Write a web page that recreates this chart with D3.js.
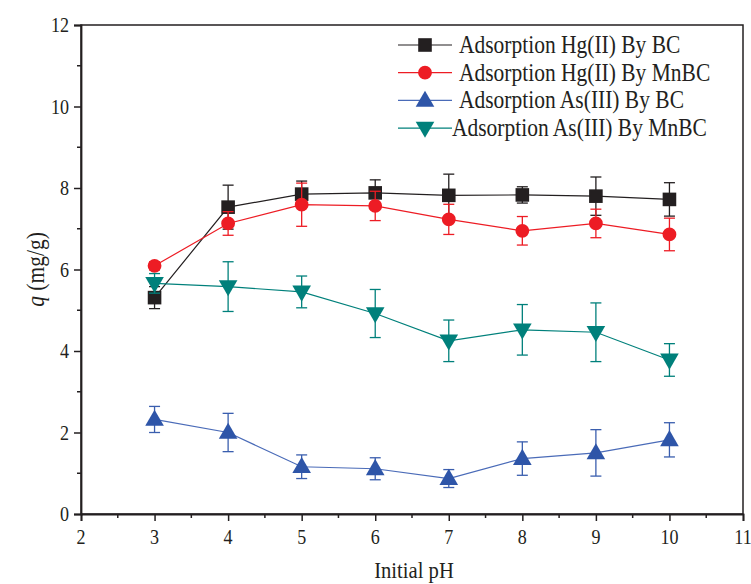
<!DOCTYPE html>
<html>
<head>
<meta charset="utf-8">
<script src="https://cdn.jsdelivr.net/npm/d3@7"></script>
<style>
  html, body { margin: 0; padding: 0; background: #fff; }
</style>
</head>
<body>
<svg id="chart" width="751" height="584"></svg>
<script>
// pH values shared by all series
const phValues = [3, 4, 5, 6, 7, 8, 9, 10];

// adsorption capacity q (mg/g) and standard deviation
const hgBC      = [5.31, 7.53, 7.85, 7.88, 7.82, 7.83, 7.80, 7.72];
const hgBCErr   = [0.27, 0.54, 0.32, 0.32, 0.52, 0.20, 0.47, 0.41];
const hgMnBC    = [6.09, 7.13, 7.59, 7.56, 7.23, 6.95, 7.13, 6.86];
const hgMnBCErr = [0.10, 0.29, 0.53, 0.36, 0.37, 0.35, 0.35, 0.40];
const asBC      = [2.32, 2.00, 1.16, 1.11, 0.87, 1.36, 1.50, 1.82];
const asBCErr   = [0.32, 0.47, 0.29, 0.27, 0.22, 0.41, 0.57, 0.42];
const asMnBC    = [5.66, 5.58, 5.45, 4.92, 4.25, 4.52, 4.46, 3.78];
const asMnBCErr = [0.24, 0.61, 0.39, 0.59, 0.51, 0.62, 0.72, 0.40];

const seriesNames = [
  "Adsorption Hg(II) By BC",
  "Adsorption Hg(II) By MnBC",
  "Adsorption As(III) By BC",
  "Adsorption As(III) By MnBC"
];

const xTicks = [2, 3, 4, 5, 6, 7, 8, 9, 10, 11];
const yTicks = [0, 2, 4, 6, 8, 10, 12];

const FONT = "'Liberation Serif', 'Times New Roman', 'DejaVu Serif', serif";
const INK = "#231f20";
const NARROW = 0.86; // horizontal condensing of the serif face

const series = [
  { name: seriesNames[0], values: hgBC,   err: hgBCErr,   color: INK,       line: INK,       errC: INK,       symbol: d3.symbolSquare,   size: 185, rot: 0 },
  { name: seriesNames[1], values: hgMnBC, err: hgMnBCErr, color: "#ed1c24", line: "#ed1c24", errC: "#ed1c24", symbol: d3.symbolCircle,   size: 150, rot: 0 },
  { name: seriesNames[2], values: asBC,   err: asBCErr,   color: "#2e55a8", line: "#4a6bb8", errC: "#3a5eae", symbol: d3.symbolTriangle, size: 150, rot: 0 },
  { name: seriesNames[3], values: asMnBC, err: asMnBCErr, color: "#00807b", line: "#00807b", errC: "#00807b", symbol: d3.symbolTriangle, size: 150, rot: 180 }
];

const svg = d3.select("#chart");
const margin = { left: 81, right: 8, top: 25, bottom: 70 };
const W = 751, H = 584;

const x = d3.scaleLinear().domain([2, 11]).range([margin.left, W - margin.right]);
const y = d3.scaleLinear().domain([0, 12]).range([H - margin.bottom, margin.top]);

// condensed text helper
function label(parent, tx, ty, str, size, anchor, rotate) {
  const t = parent.append("text")
    .attr("transform", `translate(${tx},${ty})${rotate ? ` rotate(${rotate})` : ""} scale(${NARROW},1)`)
    .attr("font-family", FONT).attr("font-size", size).attr("fill", INK)
    .attr("text-anchor", anchor || "start");
  if (str !== null) t.text(str);
  return t;
}

// plot frame
svg.append("rect")
  .attr("x", x(2)).attr("y", y(12))
  .attr("width", x(11) - x(2)).attr("height", y(0) - y(12))
  .attr("fill", "none").attr("stroke", INK).attr("stroke-width", 1.5);

// bottom axis: major ticks at integers, minor at halves
const xAxis = d3.axisBottom(x).tickValues(xTicks).tickSize(7).tickFormat("");
const gx = svg.append("g").attr("transform", `translate(0,${y(0)})`).call(xAxis);
gx.selectAll(".tick line").attr("stroke", INK).attr("stroke-width", 1.5);
gx.select(".domain").attr("stroke", INK).attr("stroke-width", 1.8);
svg.append("g").selectAll("line")
  .data(d3.range(2.5, 11, 1)).join("line")
  .attr("x1", d => x(d)).attr("x2", d => x(d))
  .attr("y1", y(0)).attr("y2", y(0) + 4)
  .attr("stroke", INK).attr("stroke-width", 1.5);
xTicks.forEach(t => label(svg, x(t), y(0) + 30, String(t), 21, "middle"));

// left axis: major ticks every 2, minor every 1
const yAxis = d3.axisLeft(y).tickValues(yTicks).tickSize(7).tickFormat("");
const gy = svg.append("g").attr("transform", `translate(${x(2)},0)`).call(yAxis);
gy.selectAll(".tick line").attr("stroke", INK).attr("stroke-width", 1.5);
gy.select(".domain").attr("stroke", INK).attr("stroke-width", 1.8);
svg.append("g").selectAll("line")
  .data(d3.range(1, 12, 2)).join("line")
  .attr("x1", x(2) - 4).attr("x2", x(2))
  .attr("y1", d => y(d)).attr("y2", d => y(d))
  .attr("stroke", INK).attr("stroke-width", 1.5);
yTicks.forEach(t => label(svg, x(2) - 12, y(t) + 7, String(t), 21, "end"));

// axis titles
label(svg, (x(2) + x(11)) / 2 + 2, 578, "Initial pH", 24, "middle");
const yt = label(svg, 44, (y(0) + y(12)) / 2, null, 25, "middle", -90);
yt.append("tspan").attr("font-style", "italic").text("q");
yt.append("tspan").text(" (mg/g)");

const line = d3.line().x((d, i) => x(phValues[i])).y(d => y(d));
const cap = 5.5;
const markerShift = s => (s.symbol === d3.symbolTriangle ? (s.rot ? -1 : 1) : 0);

series.forEach(s => {
  const g = svg.append("g");
  // error bars
  const eb = g.append("g").attr("stroke", s.errC).attr("stroke-width", 1.3);
  s.values.forEach((v, i) => {
    const px = x(phValues[i]);
    const lo = y(v - s.err[i]), hi = y(v + s.err[i]);
    eb.append("line").attr("x1", px).attr("x2", px).attr("y1", lo).attr("y2", hi);
    eb.append("line").attr("x1", px - cap).attr("x2", px + cap).attr("y1", lo).attr("y2", lo);
    eb.append("line").attr("x1", px - cap).attr("x2", px + cap).attr("y1", hi).attr("y2", hi);
  });
  // connecting line
  g.append("path").datum(s.values).attr("d", line)
    .attr("fill", "none").attr("stroke", s.line).attr("stroke-width", 1.2);
  // markers
  g.selectAll("path.m").data(s.values).join("path").attr("class", "m")
    .attr("d", d3.symbol().type(s.symbol).size(s.size))
    .attr("transform", (d, i) => `translate(${x(phValues[i])},${y(d) + markerShift(s)}) rotate(${s.rot})`)
    .attr("fill", s.color);
});

// legend
const legend = svg.append("g");
const lx0 = 398, lx1 = 452, ly0 = 45, ldy = 27.7;
series.forEach((s, i) => {
  const ly = ly0 + i * ldy;
  legend.append("line").attr("x1", lx0).attr("x2", lx1).attr("y1", ly).attr("y2", ly)
    .attr("stroke", s.line).attr("stroke-width", 1.2);
  legend.append("path")
    .attr("d", d3.symbol().type(s.symbol).size(s.size))
    .attr("transform", `translate(${(lx0 + lx1) / 2},${ly + markerShift(s)}) rotate(${s.rot})`)
    .attr("fill", s.color);
  label(legend, i === 3 ? 452 : 459, ly + 8, s.name, 25, "start");
});
</script>
</body>
</html>
